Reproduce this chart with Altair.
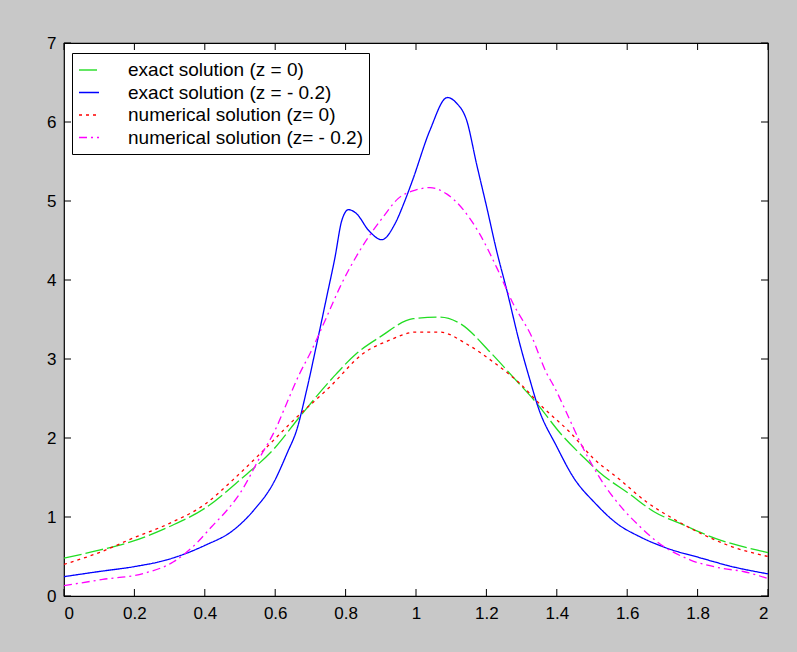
import altair as alt
import pandas as pd

# ---- data ----
names = ["exact solution (z = 0)", "exact solution (z = - 0.2)",
         "numerical solution (z= 0)", "numerical solution (z= - 0.2)"]

exact0_x = [0, 0.1, 0.2, 0.3, 0.4, 0.5, 0.6, 0.67, 0.765, 0.831, 0.898, 0.992, 1.068, 1.125,
            1.21, 1.276, 1.343, 1.41, 1.475, 1.52, 1.61, 1.675, 1.76, 1.85, 1.97, 2.0]
exact0_y = [0.48, 0.58, 0.70, 0.88, 1.11, 1.47, 1.88, 2.27, 2.77, 3.07, 3.28, 3.51, 3.53, 3.45,
            3.09, 2.77, 2.44, 2.06, 1.76, 1.57, 1.28, 1.07, 0.90, 0.73, 0.58, 0.55]

exact2_x = [0, 0.1, 0.197, 0.29, 0.40, 0.48, 0.54, 0.595, 0.635, 0.661, 0.689, 0.718, 0.746,
            0.77, 0.789, 0.808, 0.831, 0.865, 0.903, 0.94, 0.969, 0.99, 1.04, 1.089,
            1.115, 1.144, 1.172, 1.201, 1.229, 1.258, 1.295, 1.324, 1.347, 1.40, 1.446, 1.51,
            1.57, 1.636, 1.71, 1.81, 1.90, 2.0]
exact2_y = [0.245, 0.31, 0.37, 0.455, 0.64, 0.83, 1.09, 1.43, 1.82, 2.10, 2.60, 3.19, 3.78,
            4.29, 4.75, 4.89, 4.84, 4.63, 4.51, 4.71, 5.01, 5.26, 5.90, 6.31,
            6.24, 6.02, 5.47, 4.92, 4.37, 3.87, 3.19, 2.73, 2.39, 1.89, 1.51, 1.17,
            0.92, 0.75, 0.61, 0.48, 0.37, 0.28]

num0_x = [0, 0.1, 0.2, 0.3, 0.4, 0.48, 0.557, 0.651, 0.756, 0.85, 0.926, 0.997, 1.068, 1.144,
          1.22, 1.295, 1.36, 1.44, 1.50, 1.58, 1.655, 1.73, 1.81, 1.90, 2.0]
num0_y = [0.40, 0.55, 0.74, 0.92, 1.16, 1.47, 1.80, 2.22, 2.65, 3.07, 3.24, 3.34, 3.34, 3.19,
          2.96, 2.69, 2.39, 2.06, 1.76, 1.47, 1.19, 0.98, 0.79, 0.62, 0.50]

num2_x = [0, 0.11, 0.23, 0.31, 0.377, 0.42, 0.46, 0.5, 0.557, 0.604, 0.628, 0.67, 0.699, 0.746,
          0.784, 0.84, 0.907, 0.949, 1.0, 1.04, 1.087, 1.18, 1.229, 1.276, 1.329, 1.371, 1.39,
          1.44, 1.466, 1.52, 1.59, 1.636, 1.684, 1.78, 1.87, 1.93, 2.0]
num2_y = [0.13, 0.21, 0.29, 0.43, 0.67, 0.88, 1.07, 1.30, 1.76, 2.14, 2.39, 2.82, 3.07, 3.53,
          3.91, 4.37, 4.80, 5.03, 5.14, 5.17, 5.09, 4.59, 4.16, 3.70, 3.28, 2.82, 2.67,
          2.20, 1.95, 1.51, 1.09, 0.88, 0.69, 0.455, 0.35, 0.31, 0.22]

x_ticks = [0, 0.2, 0.4, 0.6, 0.8, 1.0, 1.2, 1.4, 1.6, 1.8, 2.0]
y_ticks = [0, 1, 2, 3, 4, 5, 6, 7]

colors = ["#22dd22", "#0000ff", "#ff0000", "#ff00ff"]
dashes = [[18, 4], [1, 0], [3, 4], [8, 4, 2, 4]]

# ---- build tables ----
rows = []
for name, xs, ys in zip(names, [exact0_x, exact2_x, num0_x, num2_x],
                        [exact0_y, exact2_y, num0_y, num2_y]):
    for i, (xv, yv) in enumerate(zip(xs, ys)):
        rows.append({"series": name, "x": xv, "y": yv, "order": i})
df = pd.DataFrame(rows)

W, H = 704, 553
TICK = 7

xscale = alt.Scale(domain=[0, 2], nice=False, zero=False)
yscale = alt.Scale(domain=[0, 7], nice=False, zero=False)

lines = alt.Chart(df).mark_line(interpolate="monotone", strokeWidth=1.3).encode(
    x=alt.X("x:Q", scale=xscale,
            axis=alt.Axis(values=x_ticks, format="~g", title=None, ticks=False,
                          domain=False, grid=False, labelPadding=9)),
    y=alt.Y("y:Q", scale=yscale,
            axis=alt.Axis(values=y_ticks, format="d", title=None, ticks=False, domain=False,
                          grid=False, labelPadding=8)),
    color=alt.Color("series:N", sort=names,
                    scale=alt.Scale(domain=names, range=colors),
                    legend=alt.Legend(title=None)),
    strokeDash=alt.StrokeDash("series:N", sort=names,
                              scale=alt.Scale(domain=names, range=dashes),
                              legend=alt.Legend(title=None)),
    order="order:Q",
)

xt = pd.DataFrame({"t": x_ticks})
yt = pd.DataFrame({"t": y_ticks})

xticks_bottom = alt.Chart(xt).mark_rule(color="black", strokeWidth=1).encode(
    x=alt.X("t:Q", scale=xscale), y=alt.value(H), y2=alt.value(H - TICK))
xticks_top = alt.Chart(xt).mark_rule(color="black", strokeWidth=1).encode(
    x=alt.X("t:Q", scale=xscale), y=alt.value(0), y2=alt.value(TICK))
yticks_left = alt.Chart(yt).mark_rule(color="black", strokeWidth=1).encode(
    y=alt.Y("t:Q", scale=yscale), x=alt.value(0), x2=alt.value(TICK))
yticks_right = alt.Chart(yt).mark_rule(color="black", strokeWidth=1).encode(
    y=alt.Y("t:Q", scale=yscale), x=alt.value(W), x2=alt.value(W - TICK))

chart = alt.layer(lines, xticks_bottom, xticks_top, yticks_left, yticks_right).properties(
    width=W, height=H,
    autosize=alt.AutoSizeParams(type="none"),
    padding={"left": 64, "top": 43, "right": 29, "bottom": 56},
    background="#c8c8c8",
).configure_view(
    stroke="black", strokeWidth=1.2, fill="white"
).configure_axis(
    labelFont="'Liberation Sans Narrow', 'Arial Narrow', 'Liberation Sans'",
    labelFontSize=17, labelColor="black",
).configure_legend(
    orient="none", legendX=8, legendY=10,
    fillColor="white", strokeColor="black", padding=6,
    symbolType="stroke", symbolSize=400, symbolStrokeWidth=1.4,
    labelFont="Liberation Sans", labelFontSize=19, labelColor="black",
    labelOffset=28, rowPadding=1.5, labelLimit=400,
)

chart.save("out.html", embed_options={"renderer": "svg", "actions": False})
